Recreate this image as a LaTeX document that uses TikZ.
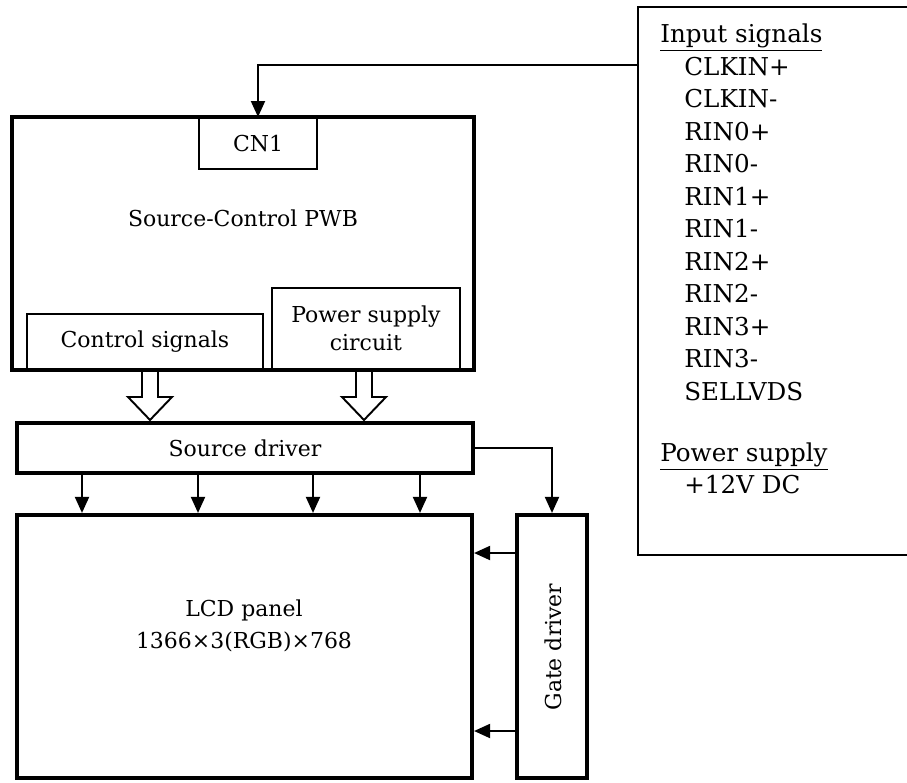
\documentclass[tikz,border=0pt]{standalone}
\usepackage{fontspec}
\setmainfont{DejaVu Serif}
\usetikzlibrary{positioning,arrows.meta}

\begin{document}
\begin{tikzpicture}[
    x=0.02cm, y=-0.02cm,
    font=\fontsize{12.5}{18}\selectfont,
    blk/.style={draw, line width=2.4pt, inner sep=0pt, align=center},
    sub/.style={draw, line width=1.1pt, inner sep=0pt, align=center},
    sig/.style={-{Triangle[length=3.2mm, width=2.8mm]}, line width=1.1pt},
    hollow/.style={line width=1.1pt}
]
\useasboundingbox (0,0) rectangle (907,782);

% signal list on the right
\node[draw, line width=1.2pt, minimum width=5.54cm, minimum height=10.96cm] (inbox) at (776.5,281) {};
\node[anchor=north west, inner sep=0pt, align=left,
      font=\fontsize{14}{18.5}\selectfont] (sigs) at (660,23.5)
    {\underline{Input signals}\\
     \hspace*{0.48cm}CLKIN+\\
     \hspace*{0.48cm}CLKIN-\\
     \hspace*{0.48cm}RIN0+\\
     \hspace*{0.48cm}RIN0-\\
     \hspace*{0.48cm}RIN1+\\
     \hspace*{0.48cm}RIN1-\\
     \hspace*{0.48cm}RIN2+\\
     \hspace*{0.48cm}RIN2-\\
     \hspace*{0.48cm}RIN3+\\
     \hspace*{0.48cm}RIN3-\\
     \hspace*{0.48cm}SELLVDS\\[16.3pt]
     \underline{Power supply}\\
     \hspace*{0.48cm}+12V DC};

% control board
\node[blk, minimum width=9.24cm, minimum height=5.06cm] (pwb) at (243,243.5) {};
\node[sub, minimum width=2.36cm, minimum height=1.02cm, anchor=north] (cn1) at (258,117) {CN1};
\node (pwbtxt) at (243,218) {Source-Control PWB};
\node[sub, minimum width=4.72cm, minimum height=1.1cm, anchor=south west] (ctrl) at (26,370) {Control signals};
\node[sub, minimum width=3.76cm, minimum height=1.62cm, anchor=south west,
      font=\fontsize{12.5}{16}\selectfont] (pwr) at (271,370) {Power supply\\circuit};

% drivers and panel
\node[blk, minimum width=9.12cm, minimum height=1cm] (sd) at (245,448) {Source driver};
\node[blk, minimum width=9.1cm, minimum height=5.26cm] (lcd) at (244.5,646.5) {};
\node[align=center] (lcdtxt) at (244,626) {LCD panel\\1366×3(RGB)×768};
\node[blk, minimum width=1.4cm, minimum height=5.26cm] (gate) at (552,646.5) {};
\node[rotate=90] (gatetxt) at (553,647) {Gate driver};

\draw[sig] (inbox.west |- 0,65) -| (cn1.north);

% wide arrows into the source driver
\foreach \xx in {150,364}
    \draw[hollow] (\xx-8,371) -- (\xx-8,397) -- (\xx-22,397) -- (\xx,420)
        -- (\xx+22,397) -- (\xx+8,397) -- (\xx+8,371);

\foreach \xx in {82,198,313,420}
    \draw[sig] (\xx,0 |- sd.south) -- (\xx,0 |- lcd.north);
\draw[sig] (sd.east) -| (gate.north);
\draw[sig] (gate.west |- 0,553) -- (lcd.east |- 0,553);
\draw[sig] (gate.west |- 0,731) -- (lcd.east |- 0,731);

\end{tikzpicture}
\end{document}
